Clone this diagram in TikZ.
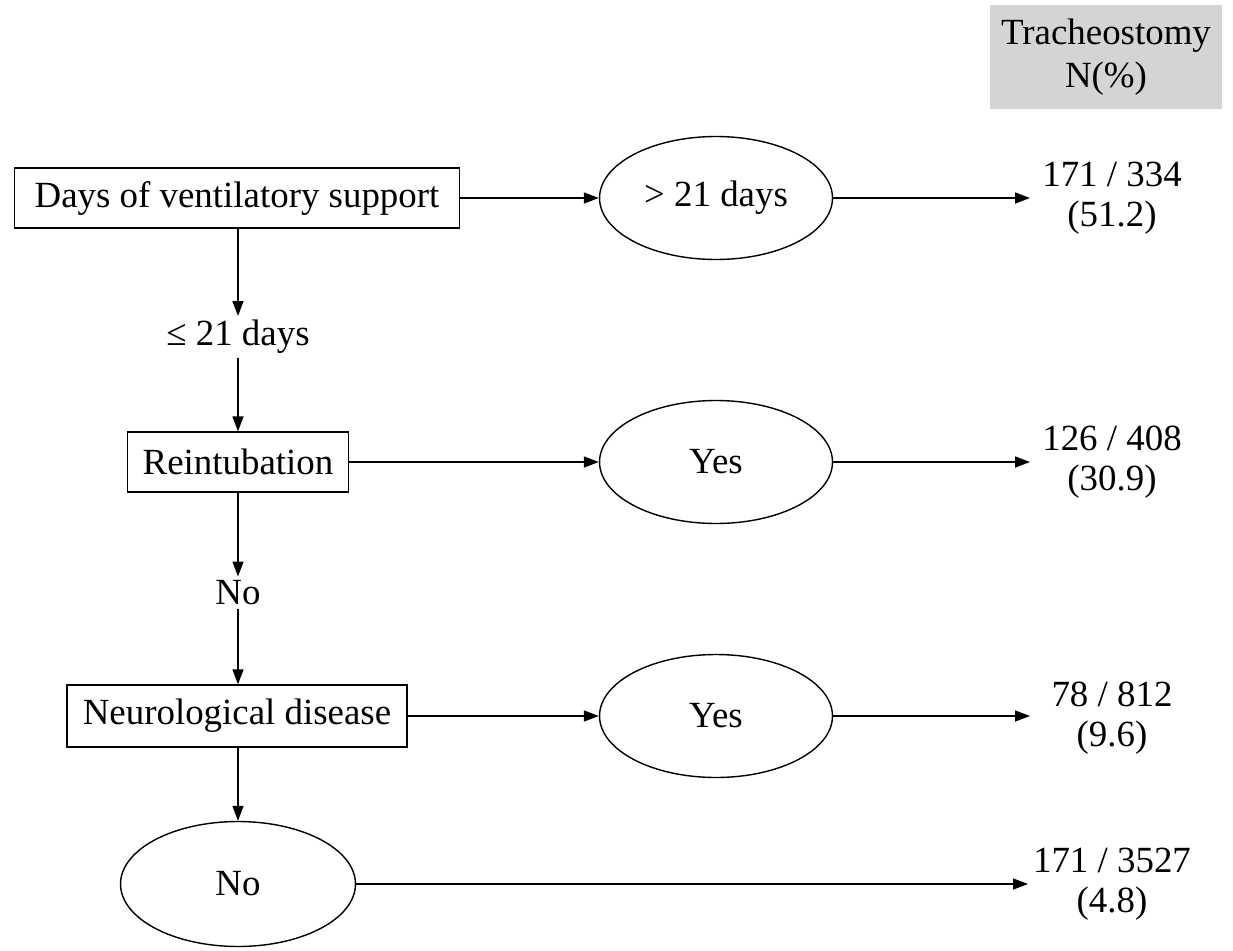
\documentclass[tikz,border=0pt]{standalone}
\usepackage{fontspec}
\setmainfont{Liberation Serif}
\usetikzlibrary{arrows.meta,shapes.geometric}
\begin{document}
\begin{tikzpicture}[x=0.02cm, y=-0.02cm,
    font=\fontsize{21}{22.5}\selectfont,
    >={Triangle[length=0.3cm,width=0.22cm]},
    every path/.style={line width=0.8pt},
    factor/.style={draw, inner sep=0pt, minimum height=1.2cm},
    branch/.style={draw, ellipse, inner sep=0pt, minimum width=4.66cm, minimum height=2.46cm},
    result/.style={align=center, inner sep=0pt},
    label/.style={inner sep=2pt}]
  \useasboundingbox (0,0) rectangle (1233,950);
  % header
  \node[fill=black!17, align=center, minimum width=4.64cm, minimum height=2.1cm] (head) at (1106,57) {Tracheostomy\\[2pt]N(\%)};
  % decision column
  \node[factor, minimum width=8.9cm] (days) at (237,198) {Days of ventilatory support};
  \node[label] (le21) at (238,337) {≤ 21 days};
  \node[factor, minimum width=4.42cm] (reint) at (238,462) {Reintubation};
  \node[label] (no) at (238,593) {No};
  \node[factor, minimum width=6.8cm, minimum height=1.24cm] (neuro) at (237,716) {Neurological disease};
  \node[branch, minimum width=4.7cm, minimum height=2.5cm] (rest) at (238,884) {No};
  % branches
  \node[branch] (gt21) at (716,198) {> 21 days};
  \node[branch] (yes1) at (716,462) {Yes};
  \node[branch] (yes2) at (716,716) {Yes};
  % results
  \node[result] (r1) at (1112,198) {171 / 334\\(51.2)};
  \node[result] (r2) at (1112,462) {126 / 408\\(30.9)};
  \node[result] (r3) at (1112,718) {78 / 812\\(9.6)};
  \node[result] (r4) at (1112,884) {171 / 3527\\(4.8)};
  \coordinate (e1) at (1030,198);
  \coordinate (e2) at (1030,462);
  \coordinate (e3) at (1030,716);
  \coordinate (e4) at (1028,884);
  % connectors
  \draw[->] (days.east) -- (gt21.west);
  \draw[->] (gt21.east) -- (e1);
  \draw[->] (reint.east) -- (yes1.west);
  \draw[->] (yes1.east) -- (e2);
  \draw[->] (neuro.east) -- (yes2.west);
  \draw[->] (yes2.east) -- (e3);
  \draw[->] (rest.east) -- (e4);
  \draw[->] (le21.north |- days.south) -- (le21.north);
  \draw[->] (le21.south) -- (le21.south |- reint.north);
  \draw[->] (no.north |- reint.south) -- (no.north);
  \draw[->] (no.south) -- (no.south |- neuro.north);
  \draw[->] (no.south |- neuro.south) -- (no.south |- rest.north);
\end{tikzpicture}
\end{document}
